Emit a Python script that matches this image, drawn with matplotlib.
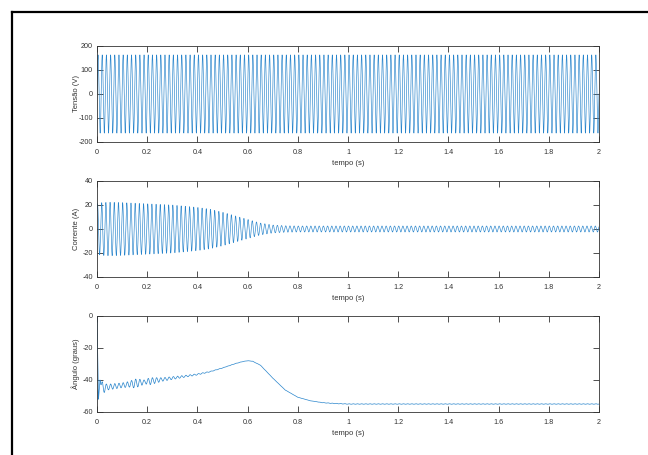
import numpy as np
import matplotlib
matplotlib.use("Agg")
import matplotlib.pyplot as plt
from matplotlib.lines import Line2D

plt.rcParams['font.family'] = ['Liberation Sans', 'DejaVu Sans']

# ---- data -------------------------------------------------------------
grid_freq_hz = 60.0
voltage_peak = 163.0

# current envelope (A) sampled along time (s)
current_env_t = [0.0, 0.02, 0.05, 0.10, 0.20, 0.30, 0.40, 0.45, 0.50, 0.55,
                 0.60, 0.65, 0.70, 0.75, 0.80, 2.00]
current_env_a = [21.0, 22.0, 22.3, 22.0, 21.0, 20.0, 18.0, 16.5, 14.0, 11.0,
                 8.0, 5.0, 3.3, 2.7, 2.5, 2.5]

# rotor angle mean value (degrees)
angle_t = [0.0, 0.006, 0.012, 0.02, 0.05, 0.10, 0.15, 0.20, 0.25, 0.30, 0.35,
           0.40, 0.45, 0.50, 0.55, 0.58, 0.60, 0.62, 0.65, 0.68, 0.70, 0.75,
           0.80, 0.85, 0.90, 0.95, 1.00, 2.00]
angle_deg = [0.0, -52.0, -40.0, -45.0, -44.3, -43.3, -42.2, -41.0, -39.9,
             -38.8, -37.7, -36.5, -34.8, -32.5, -29.8, -28.5, -28.0, -28.3,
             -30.6, -35.5, -38.8, -46.3, -50.8, -53.0, -54.2, -54.7, -55.0,
             -55.0]
# amplitude of the electrical ripple riding on the angle (degrees)
ripple_t = [0.0, 0.012, 0.02, 0.04, 0.10, 0.13, 0.15, 0.17, 0.19, 0.21, 0.23,
            0.26, 0.35, 0.45, 0.50, 0.85, 0.95, 2.00]
ripple_a = [0.0, 0.0, 4.0, 1.8, 1.5, 1.8, 2.8, 2.2, 1.2, 2.2, 1.8,
            1.1, 0.6, 0.2, 0.1, 0.05, 0.15, 0.15]

x_ticks = [0, 0.2, 0.4, 0.6, 0.8, 1.0, 1.2, 1.4, 1.6, 1.8, 2.0]
x_tick_labels = ["0", "0.2", "0.4", "0.6", "0.8", "1", "1.2", "1.4", "1.6", "1.8", "2"]
v_ticks = [-200, -100, 0, 100, 200]
i_ticks = [-40, -20, 0, 20, 40]
a_ticks = [-60, -40, -20, 0]

# ---- signals ------------------------------------------------------------
t = np.linspace(0.0, 2.0, 40001)
w = 2 * np.pi * grid_freq_hz
tension = voltage_peak * np.sin(w * t)
corrente = np.interp(t, current_env_t, current_env_a) * np.sin(w * t + 0.8)
angulo = (np.interp(t, angle_t, angle_deg)
          + np.interp(t, ripple_t, ripple_a) * np.sin(w * t))

# ---- figure -------------------------------------------------------------
W, H = 648, 455
fig = plt.figure(figsize=(W / 100, H / 100), dpi=100)
fig.patch.set_facecolor("white")

line_color = (0.16, 0.52, 0.80)
edge = (0.2, 0.2, 0.2)
fs = 5.2


def px_axes(x0, y0, x1, y1):
    return fig.add_axes([x0 / W, 1 - y1 / H, (x1 - x0) / W, (y1 - y0) / H])


def style(ax, yticks, ylabel):
    ax.set_xlim(0, 2)
    ax.set_ylim(yticks[0], yticks[-1])
    ax.set_xticks(x_ticks)
    ax.set_xticklabels(x_tick_labels)
    ax.set_yticks(yticks)
    ax.set_yticklabels([str(v) for v in yticks])
    ax.tick_params(direction="in", length=4, width=0.6, colors=edge,
                   labelsize=fs, top=True, right=True)
    ax.tick_params(axis="x", pad=5)
    ax.tick_params(axis="y", pad=3)
    for s in ax.spines.values():
        s.set_color(edge)
        s.set_linewidth(0.6)
    ax.set_xlabel("tempo (s)", fontsize=fs + 0.3, color=edge, labelpad=3)
    ax.set_ylabel(ylabel, fontsize=fs + 0.3, color=edge)
    ax.yaxis.set_label_coords(-0.034, 0.5)


ax1 = px_axes(97, 46, 599, 142)
ax1.plot(t, tension, color=line_color, lw=0.45)
style(ax1, v_ticks, "Tensão (V)")

ax2 = px_axes(97, 181, 599, 277)
ax2.plot(t, corrente, color=line_color, lw=0.45)
style(ax2, i_ticks, "Corrente (A)")

ax3 = px_axes(97, 316, 599, 412)
ax3.plot(t, angulo, color=line_color, lw=0.5)
style(ax3, a_ticks, "Ângulo (graus)")

# frame around the figure (top and left edges)
fig.add_artist(Line2D([11.5 / W, 1.0], [1 - 11.5 / H, 1 - 11.5 / H],
                      transform=fig.transFigure, color="black", lw=1.6))
fig.add_artist(Line2D([11.5 / W, 11.5 / W], [0.0, 1 - 11.5 / H],
                      transform=fig.transFigure, color="black", lw=1.6))

fig.savefig("out.png", dpi=100)
